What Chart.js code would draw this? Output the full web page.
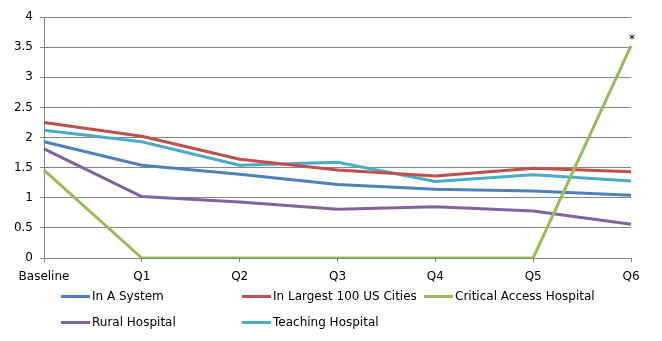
<!DOCTYPE html>
<html>
<head>
<meta charset="utf-8">
<script src="https://cdn.jsdelivr.net/npm/chart.js@4"></script>
<style>
  html, body { margin: 0; padding: 0; background: #fff; }
  #wrap { position: relative; width: 662px; height: 341px; }
  #legend { position: absolute; left: 0; top: 0; width: 662px; height: 341px; pointer-events: none;
    font-family: "DejaVu Sans", sans-serif; font-size: 12px; color: #000; }
  .item { position: absolute; display: flex; align-items: center; white-space: nowrap; }
  .item .sw { width: 29px; height: 3px; margin-right: 2px; }
</style>
</head>
<body>
<div id="wrap">
  <canvas id="myChart" width="662" height="341"></canvas>
  <div id="legend"></div>
</div>
<script>
const labels = ['Baseline', 'Q1', 'Q2', 'Q3', 'Q4', 'Q5', 'Q6']

const inSystem = [1.93, 1.54, 1.39, 1.22, 1.14, 1.11, 1.04]
const largestCities = [2.25, 2.02, 1.64, 1.46, 1.36, 1.49, 1.43]
const criticalAccess = [1.46, 0, 0, 0, 0, 0, 3.52]
const rural = [1.81, 1.02, 0.93, 0.81, 0.85, 0.78, 0.56]
const teaching = [2.12, 1.93, 1.54, 1.59, 1.27, 1.38, 1.28]

const seriesNames = ['In A System', 'In Largest 100 US Cities', 'Critical Access Hospital', 'Rural Hospital', 'Teaching Hospital']
const seriesColors = ['#4F81BD', '#C0504D', '#9BBB59', '#8064A2', '#4BACC6']
const seriesData = [inSystem, largestCities, criticalAccess, rural, teaching]

const yTicks = [0, 0.5, 1, 1.5, 2, 2.5, 3, 3.5, 4]

// legend grid, like the spreadsheet one
const legend = document.getElementById('legend')
const legendSpots = [[61, 297], [242, 297], [424, 297], [61, 323], [242, 323]]
seriesNames.forEach((name, i) => {
  const el = document.createElement('div')
  el.className = 'item'
  el.style.left = legendSpots[i][0] + 'px'
  el.style.top = (legendSpots[i][1] - 8) + 'px'
  el.innerHTML = `<span class="sw" style="background:${seriesColors[i]}"></span><span>${name}</span>`
  legend.append(el)
})

// the little * over the last critical access point
const starPlugin = {
  id: 'star',
  afterDatasetsDraw(chart) {
    const meta = chart.getDatasetMeta(2)
    const pt = meta.data[meta.data.length - 1]
    const ctx = chart.ctx
    ctx.save()
    ctx.fillStyle = '#000'
    ctx.font = '12px "DejaVu Sans"'
    ctx.textAlign = 'center'
    ctx.textBaseline = 'middle'
    ctx.fillText('*', pt.x + 1, pt.y - 6)
    ctx.restore()
  }
}

Chart.defaults.font.family = '"DejaVu Sans", sans-serif'
Chart.defaults.font.size = 12
Chart.defaults.color = '#000'

new Chart(document.getElementById('myChart'), {
  type: 'line',
  data: {
    labels: labels,
    datasets: seriesData.map((d, i) => ({
      label: seriesNames[i],
      data: d,
      borderColor: seriesColors[i],
      backgroundColor: seriesColors[i],
      borderWidth: 3,
      borderJoinStyle: 'round',
      pointRadius: 0,
      tension: 0,
      order: i === 2 ? -1 : i
    }))
  },
  options: {
    responsive: false,
    animation: false,
    layout: { padding: { top: 17, right: 31, bottom: 0, left: 0 } },
    plugins: {
      legend: { display: false },
      tooltip: { enabled: false }
    },
    scales: {
      x: {
        offset: false,
        grid: { display: true, drawOnChartArea: false, drawTicks: true, tickLength: 4, color: '#868686' },
        border: { color: '#868686', width: 1 },
        ticks: { padding: 8, maxRotation: 0, autoSkip: false },
        afterFit(scale) { scale.height = 83 }
      },
      y: {
        min: 0,
        max: 4,
        afterBuildTicks(scale) { scale.ticks = yTicks.map(v => ({ value: v })) },
        grid: { color: '#868686', tickLength: 4 },
        border: { color: '#868686', width: 1 },
        ticks: { padding: 7, callback: v => String(v) },
        afterFit(scale) { scale.width = 44 }
      }
    }
  },
  plugins: [starPlugin]
})
</script>
</body>
</html>
